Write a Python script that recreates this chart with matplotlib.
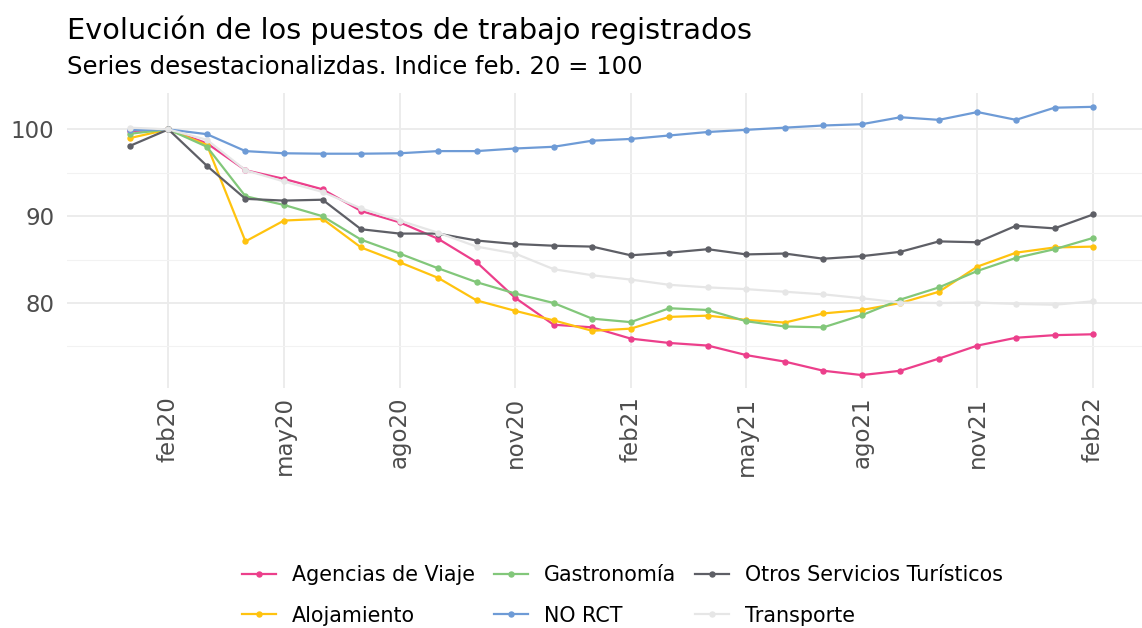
import numpy as np
import matplotlib
matplotlib.use("Agg")
import matplotlib.pyplot as plt
from matplotlib.ticker import MultipleLocator

# monthly values, jan20 .. feb22 (index feb20 = 100)
months = ["ene20", "feb20", "mar20", "abr20", "may20", "jun20", "jul20", "ago20",
          "sep20", "oct20", "nov20", "dic20", "ene21", "feb21", "mar21", "abr21",
          "may21", "jun21", "jul21", "ago21", "sep21", "oct21", "nov21", "dic21",
          "ene22", "feb22"]
tick_months = ["feb20", "may20", "ago20", "nov20", "feb21", "may21", "ago21", "nov21", "feb22"]

agencias = [99.8, 100, 98.4, 95.3, 94.3, 93.1, 90.6, 89.3, 87.4, 84.7, 80.6, 77.5, 77.2,
            75.9, 75.4, 75.1, 74.0, 73.25, 72.2, 71.7, 72.2, 73.6, 75.1, 76.0, 76.3, 76.4]
alojamiento = [99.0, 100, 98.2, 87.1, 89.5, 89.7, 86.4, 84.7, 82.9, 80.3, 79.1, 78.0, 76.8,
               77.05, 78.4, 78.55, 78.05, 77.75, 78.8, 79.2, 80.0, 81.3, 84.2, 85.8, 86.4, 86.5]
gastronomia = [99.5, 100, 98.0, 92.3, 91.3, 90.0, 87.3, 85.7, 84.0, 82.4, 81.1, 80.0, 78.2,
               77.8, 79.4, 79.2, 77.9, 77.3, 77.2, 78.6, 80.4, 81.8, 83.7, 85.2, 86.2, 87.5]
no_rct = [99.9, 100, 99.45, 97.5, 97.25, 97.2, 97.2, 97.25, 97.5, 97.5, 97.8, 98.0, 98.7,
          98.9, 99.3, 99.7, 99.95, 100.2, 100.45, 100.6, 101.4, 101.1, 102.0, 101.1, 102.5, 102.6]
otros = [98.1, 100, 95.8, 92.0, 91.8, 91.9, 88.5, 88.0, 88.0, 87.2, 86.8, 86.6, 86.5,
         85.5, 85.8, 86.2, 85.6, 85.7, 85.1, 85.4, 85.9, 87.1, 87.0, 88.9, 88.6, 90.2]
transporte = [100.2, 100, 98.8, 95.3, 94.0, 92.8, 90.9, 89.5, 88.1, 86.5, 85.7, 83.9, 83.2,
              82.7, 82.1, 81.8, 81.6, 81.3, 81.0, 80.55, 80.05, 80.0, 80.05, 79.9, 79.8, 80.2]

series = [
    ("Agencias de Viaje", agencias, "#EC3F8B"),
    ("Alojamiento", alojamiento, "#FFC30F"),
    ("Gastronomía", gastronomia, "#82C77A"),
    ("NO RCT", no_rct, "#6E9BD6"),
    ("Otros Servicios Turísticos", otros, "#5E5F66"),
    ("Transporte", transporte, "#E6E6E6"),
]

x = np.arange(len(months))

fig = plt.figure(figsize=(11.42, 6.28), dpi=100)
ax = fig.add_axes([0.0584, 0.382, 0.9416, 0.47])

for name, vals, col in series:
    ax.plot(x, vals, color=col, lw=1.6, marker="o", ms=3.6, label=name)

ax.set_xlim(-1.64, 26.27)
ax.set_ylim(70.2, 104.2)
ax.yaxis.set_major_locator(MultipleLocator(10))
ax.yaxis.set_minor_locator(MultipleLocator(5))
ax.set_xticks([months.index(m) for m in tick_months])
ax.set_xticklabels(tick_months, rotation=90, va="top", ha="center")

ax.grid(which="major", color="#EBEBEB", lw=1.3)
ax.grid(which="minor", axis="y", color="#F2F2F2", lw=0.8)
ax.set_axisbelow(True)
for s in ax.spines.values():
    s.set_visible(False)
ax.tick_params(which="both", length=0, labelsize=16.5, labelcolor="#4D4D4D")
ax.tick_params(axis="x", pad=6)
ax.tick_params(axis="y", pad=9)

fig.text(0.0584, 0.938, "Evolución de los puestos de trabajo registrados",
         fontsize=20.7, va="baseline")
fig.text(0.0584, 0.882, "Series desestacionalizdas. Indice feb. 20 = 100",
         fontsize=17.5, va="baseline")

fig.legend(loc="center", bbox_to_anchor=(0.545, 0.052), ncol=3, frameon=False,
           fontsize=14.9, handlelength=1.65, columnspacing=0.92, labelspacing=1.0,
           handletextpad=0.77)

fig.savefig("out.png", dpi=100)
